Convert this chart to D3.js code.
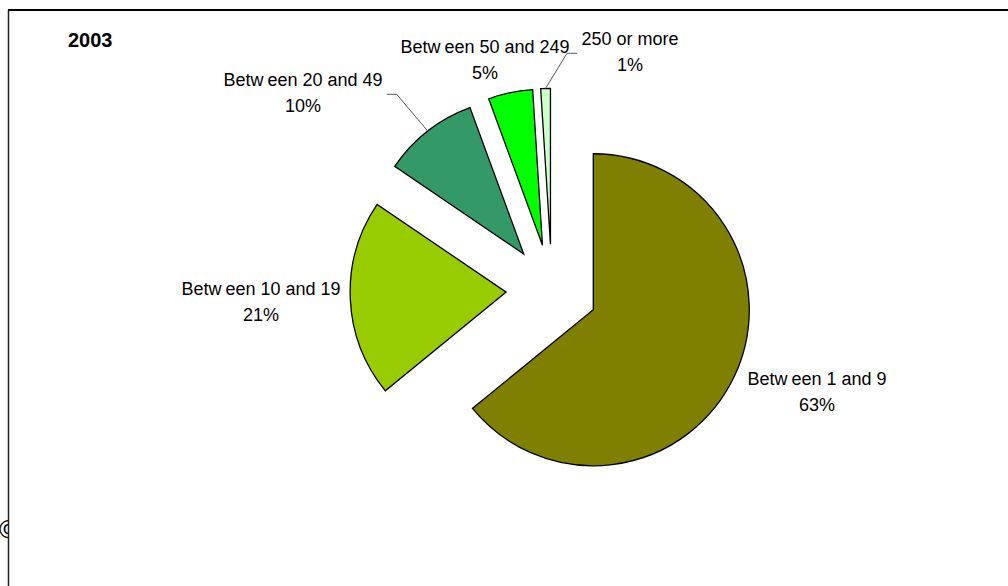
<!DOCTYPE html>
<html>
<head>
<meta charset="utf-8">
<script src="https://cdn.jsdelivr.net/npm/d3@7"></script>
<style>
  html, body { margin: 0; padding: 0; background: #fff; }
  svg { display: block; }
  text { font-family: Arial, "Liberation Sans", sans-serif; }
</style>
</head>
<body>
<svg id="chart" width="1008" height="586"></svg>
<script>
// ---- data ----
const title = "2003";
const categories = ["Between 1 and 9", "Between 10 and 19", "Between 20 and 49", "Between 50 and 249", "250 or more"];
const values = [64.1, 20.4, 9.9, 4.6, 1.0];          // slice shares
const percentLabels = ["63%", "21%", "10%", "5%", "1%"]; // data labels as printed
const colors = ["#808000", "#99CC00", "#339966", "#00FF00", "#CCFFCC"];

// ---- layout ----
const W = 1008, H = 586;
const cx = 551.9, cy = 290.1, R = 156, explode = 45.8;
const labelPos = [
  {x: 817, y: 385},
  {x: 261, y: 295},
  {x: 303, y: 86},
  {x: 485, y: 53},
  {x: 630, y: 45}
];
const lineGap = 26;
// leader elbows (label side) for slices that have them
const leaders = {
  2: [[386.7, 94.3], [396.7, 94.3]],
  4: [[577, 53.3], [567, 53.3]]
};

const svg = d3.select("#chart");

// copyright glyph partially hidden behind frame
svg.append("defs").append("clipPath").attr("id", "clipL")
  .append("rect").attr("x", 0).attr("y", 0).attr("width", 8).attr("height", H);
svg.append("text").attr("x", -1).attr("y", 538)
  .attr("clip-path", "url(#clipL)")
  .attr("font-size", 26).text("©");

// frame
svg.append("line").attr("x1", 8).attr("x2", W).attr("y1", 10).attr("y2", 10)
  .attr("stroke", "#000").attr("stroke-width", 2);
svg.append("line").attr("x1", 8.5).attr("x2", 8.5).attr("y1", 10).attr("y2", H)
  .attr("stroke", "#222").attr("stroke-width", 1.5);

// title
svg.append("text").attr("x", 68).attr("y", 47)
  .attr("font-size", 20).attr("font-weight", "bold").text(title);

// pie
const pie = d3.pie().sort(null).value(d => d).startAngle(0).endAngle(2 * Math.PI);
const arcs = pie(values);
const arc = d3.arc().innerRadius(0).outerRadius(R);

const g = svg.append("g").attr("transform", `translate(${cx},${cy})`);

function offset(a) {
  const m = (a.startAngle + a.endAngle) / 2;
  return [Math.sin(m) * explode, -Math.cos(m) * explode];
}

g.selectAll("path.slice").data(arcs).enter().append("path")
  .attr("class", "slice")
  .attr("transform", d => { const o = offset(d); return `translate(${o[0]},${o[1]})`; })
  .attr("d", arc)
  .attr("fill", (d, i) => colors[i])
  .attr("stroke", "#000")
  .attr("stroke-width", 1.3)
  .attr("stroke-linejoin", "miter");

// leader lines
Object.keys(leaders).forEach(k => {
  const i = +k;
  const a = arcs[i];
  const m = (a.startAngle + a.endAngle) / 2;
  const o = offset(a);
  const end = [cx + o[0] + Math.sin(m) * R, cy + o[1] - Math.cos(m) * R];
  const pts = leaders[i].concat([end]);
  svg.append("path")
    .attr("d", d3.line()(pts))
    .attr("fill", "none")
    .attr("stroke", "#555")
    .attr("stroke-width", 1);
});

// labels
categories.forEach((c, i) => {
  const p = labelPos[i];
  const t = svg.append("text").attr("x", p.x).attr("y", p.y)
    .attr("text-anchor", "middle").attr("font-size", 18).attr("fill", "#000");
  if (c.startsWith("Betw")) {
    t.append("tspan").text("Betw");
    t.append("tspan").attr("dx", 4).text(c.slice(4));
  } else {
    t.text(c);
  }
  svg.append("text").attr("x", p.x).attr("y", p.y + lineGap)
    .attr("text-anchor", "middle").attr("font-size", 18).attr("fill", "#000")
    .text(percentLabels[i]);
});
</script>
</body>
</html>
